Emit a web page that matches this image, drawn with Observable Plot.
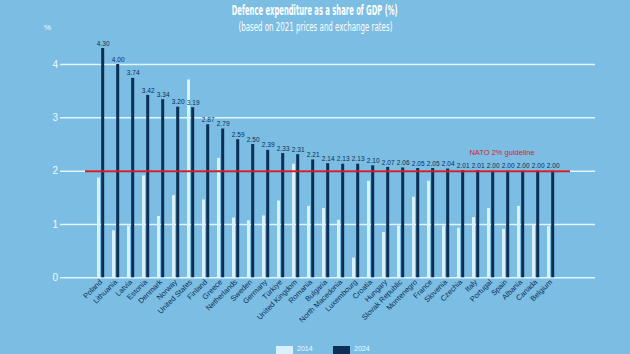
<!DOCTYPE html>
<html><head><meta charset="utf-8">
<script src="https://cdn.jsdelivr.net/npm/d3@7"></script>
<script src="https://cdn.jsdelivr.net/npm/@observablehq/plot@0.6"></script>
<style>
html,body{margin:0;padding:0;background:#7bbde3;width:630px;height:354px;overflow:hidden;}
#head{position:relative;width:630px;height:36px;}
.t{position:absolute;left:0;width:630px;text-align:center;color:#fff;font-family:'Liberation Sans Narrow','DejaVu Sans Condensed',sans-serif;white-space:nowrap;}
.t span{display:inline-block;}
#title{top:2px;font-size:14px;font-weight:bold;}
#sub{top:19px;font-size:13px;}
#pct{position:absolute;left:44px;top:23px;font-size:8px;color:#f0faff;font-family:'Liberation Sans',sans-serif;}
#wrap{position:relative;width:630px;height:354px;}
#legend{position:absolute;left:0;top:345px;width:630px;height:9px;font-family:'Liberation Sans',sans-serif;font-size:7px;line-height:8px;color:#f0faff;}
.sw{position:absolute;top:1px;width:17px;height:8px;}
.lt{position:absolute;top:0;}
svg{display:block;overflow:visible;}
</style></head>
<body>
<div id="wrap">
<div id="head">
  <div class="t" id="title"><span id="ts">Defence expenditure as a share of GDP (%)</span></div>
  <div class="t" id="sub"><span id="ss">(based on 2021 prices and exchange rates)</span></div>
  <div id="pct">%</div>
</div>
<div id="chart"></div>
<div id="legend"></div>
</div>
<script>
const countries = ["Poland","Lithuania","Latvia","Estonia","Denmark","Norway","United States","Finland","Greece","Netherlands","Sweden","Germany","Türkiye","United Kingdom","Romania","Bulgaria","North Macedonia","Luxembourg","Croatia","Hungary","Slovak Republic","Montenegro","France","Slovenia","Czechia","Italy","Portugal","Spain","Albania","Canada","Belgium"];
const v2024 = [4.30,4.00,3.74,3.42,3.34,3.20,3.19,2.87,2.79,2.59,2.50,2.39,2.33,2.31,2.21,2.14,2.13,2.13,2.10,2.07,2.06,2.05,2.05,2.04,2.01,2.01,2.00,2.00,2.00,2.00,2.00];
const v2014 = [1.87,0.88,0.97,1.91,1.15,1.54,3.71,1.46,2.24,1.12,1.07,1.16,1.44,2.13,1.34,1.30,1.08,0.37,1.81,0.85,0.97,1.51,1.81,0.97,0.93,1.13,1.30,0.91,1.34,0.99,0.96];
const yTicks = [0,1,2,3,4];
const guideline = 2;
const guideLabel = "NATO 2% guideline";
const seriesNames = ["2014","2024"];

const NAVY = "#0c2f55", LIGHT = "#d8f1fc", GRID = "#e3f5fd", RED = "#d21f2a";
const data = countries.map((c,i)=>({country:c, a:v2014[i], b:v2024[i]}));

const chart = Plot.plot({
  width: 630, height: 308,
  marginTop: 28, marginBottom: 66.7, marginLeft: 88.5, marginRight: 67.8,
  style: {background: "transparent", fontFamily: "'Liberation Sans', sans-serif", overflow: "visible"},
  x: {domain: countries, padding: 0, label: null},
  y: {domain: [0,4], label: null},
  marks: [
    Plot.ruleY(yTicks, {stroke: GRID, strokeWidth: 1.5, insetLeft: -28.5, insetRight: -32.8}),
    Plot.barY(data, {x: "country", y: "a", fill: LIGHT, insetLeft: 4, insetRight: 8}),
    Plot.barY(data, {x: "country", y: "b", fill: NAVY, insetLeft: 8.2, insetRight: 3.8}),
    Plot.ruleY([guideline], {stroke: RED, strokeWidth: 2, insetLeft: -3.5, insetRight: -7.8}),
    Plot.text(data, {x: "country", y: "b", text: d => d.b.toFixed(2), dx: 2.2, dy: -5, fontSize: 6.5, fill: NAVY, fontFamily: "'Liberation Sans Narrow', sans-serif"}),
    Plot.text([guideline], {x: () => "Spain", y: d => d, text: () => guideLabel, dx: -4, dy: -19, fontSize: 7.5, fill: RED, fontFamily: "'Liberation Sans Narrow', sans-serif"}),
    Plot.axisX({tickRotate: -45, tickSize: 0, tickPadding: 3, fontSize: 7.5, fill: NAVY, label: null}),
    Plot.axisY({ticks: yTicks, tickSize: 0, tickPadding: 31, fontSize: 10, fill: "#f0faff", tickFormat: d => d, label: null})
  ]
});
document.getElementById("chart").appendChild(chart);

const lg = document.getElementById("legend");
[[LIGHT, 276, 297], [NAVY, 333, 354]].forEach(([c, sx, tx], i) => {
  const s = document.createElement("div"); s.className = "sw"; s.style.left = sx + "px"; s.style.background = c; lg.appendChild(s);
  const t = document.createElement("div"); t.className = "lt"; t.style.left = tx + "px"; t.textContent = seriesNames[i]; lg.appendChild(t);
});
function fit(id, w){ const el=document.getElementById(id); const r=el.getBoundingClientRect().width; el.style.transform = `scaleX(${w/r})`; }
fit("ts", 166); fit("ss", 154);
</script>
</body></html>
